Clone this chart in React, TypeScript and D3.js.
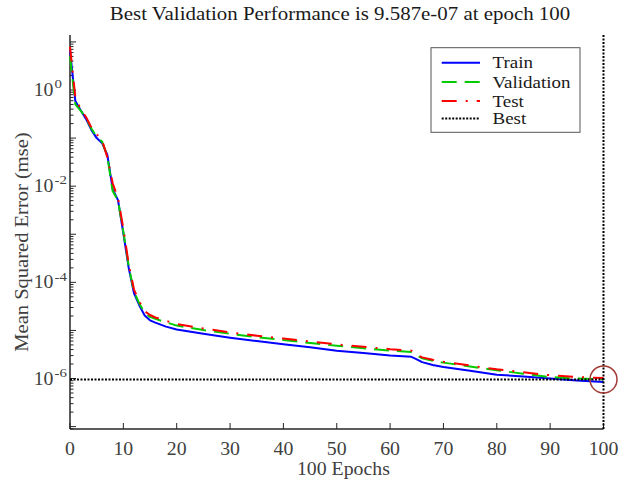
import React from "react";
import * as d3 from "d3";

const epochs = [0,1,2,3,4,5,6,7,8,9,10,11,12,13,14,15,16,18,20,25,30,35,40,45,50,55,60,64,65,66,68,70,75,80,85,90,95,100];
const trainPerf = [6.76,0.589,0.380,0.251,0.148,0.100,0.0794,0.0447,8.71e-3,5.13e-3,1.05e-3,2.0e-4,5.89e-5,3.31e-5,2.04e-5,1.62e-5,1.45e-5,1.20e-5,1.05e-5,8.51e-6,7.08e-6,6.03e-6,5.13e-6,4.47e-6,3.80e-6,3.39e-6,3.02e-6,2.82e-6,2.51e-6,2.19e-6,1.91e-6,1.74e-6,1.45e-6,1.20e-6,1.10e-6,1.0e-6,9.12e-7,8.51e-7];
const valPerf = [5.01,0.501,0.372,0.263,0.158,0.105,0.0851,0.0417,7.94e-3,5.01e-3,1.12e-3,2.19e-4,6.31e-5,3.63e-5,2.34e-5,1.91e-5,1.74e-5,1.48e-5,1.26e-5,1.02e-5,8.51e-6,7.24e-6,6.31e-6,5.50e-6,4.79e-6,4.27e-6,3.80e-6,3.55e-6,3.02e-6,2.63e-6,2.34e-6,2.14e-6,1.78e-6,1.48e-6,1.26e-6,1.07e-6,1.0e-6,9.587e-7];
const testPerf = [7.94,0.708,0.398,0.275,0.166,0.120,0.0912,0.0398,0.0115,5.62e-3,1.32e-3,2.40e-4,7.08e-5,3.98e-5,2.51e-5,2.09e-5,1.86e-5,1.58e-5,1.35e-5,1.10e-5,9.12e-6,7.76e-6,6.76e-6,5.89e-6,5.13e-6,4.57e-6,4.07e-6,3.80e-6,3.16e-6,2.75e-6,2.45e-6,2.24e-6,1.86e-6,1.55e-6,1.35e-6,1.17e-6,1.07e-6,1.02e-6];
const bestEpoch = 100;
const bestPerf = 9.587e-7;
const xTicks = [0,10,20,30,40,50,60,70,80,90,100];
const yLabelExps = [0,-2,-4,-6];
const legendNames = ["Train","Validation","Test","Best"];
const titleText = "Best Validation Performance is 9.587e-07 at epoch 100";
const xLabelText = "100 Epochs";
const yLabelText = "Mean Squared Error (mse)";

const FONT = "'Liberation Serif', 'Times New Roman', serif";
const SX = 1.1;

function T({ x, y, size, anchor = "start", fill = "#404040", rot = 0, sx = SX, children }: any) {
  return (
    <text
      transform={`translate(${x},${y}) rotate(${rot}) scale(${sx},1)`}
      fontFamily={FONT}
      fontSize={size}
      textAnchor={anchor}
      fill={fill}
    >
      {children}
    </text>
  );
}

export default function App() {
  const W = 619, H = 481;
  const x0 = 70, x1 = 603.5, yTop = 35, yBot = 429;
  const x = d3.scaleLinear().domain([0, 100]).range([x0, x1]);
  const y = d3.scaleLog().domain([Math.pow(10, -7.05), Math.pow(10, 1.144)]).range([yBot, yTop]);
  const [dmin, dmax] = y.domain();

  const line = (vals: number[]) =>
    d3.line<number>().x((_, i) => x(epochs[i])).y((v) => y(v))(vals) || "";

  const yTickMarks: { v: number; major: boolean }[] = [];
  for (let k = -8; k <= 1; k++) {
    for (let m = 1; m <= 9; m++) {
      const v = m * Math.pow(10, k);
      if (v >= dmin && v <= dmax) yTickMarks.push({ v, major: m === 1 });
    }
  }

  const axisColor = "#262626";
  const series = [
    { vals: trainPerf, color: "#0000ff", dash: "none" },
    { vals: valPerf, color: "#00cc00", dash: "15,8" },
    { vals: testPerf, color: "#ff0000", dash: "15,9,2,9" },
  ];
  const legendStyles = [
    { color: "#0000ff", dash: "none", w: 2 },
    { color: "#00cc00", dash: "15,8", w: 2 },
    { color: "#ff0000", dash: "15,9,2,9", w: 2 },
    { color: "#000000", dash: "2,1.5", w: 2 },
  ];
  const legY = [62.7, 82, 101, 118.6];
  const by = y(bestPerf);

  return (
    <svg width={W} height={H} style={{ position: "absolute", left: 0, top: 0, background: "#fff" }}>
      <rect x={0} y={0} width={W} height={H} fill="#fff" />
      {/* axes */}
      <line x1={x0} y1={yTop} x2={x0} y2={yBot} stroke={axisColor} strokeWidth={1.5} />
      <line x1={x0} y1={yBot} x2={x1} y2={yBot} stroke={axisColor} strokeWidth={1.5} />
      {yTickMarks.map((t, i) => (
        <line key={"yt" + i} x1={x0} x2={x0 + (t.major ? 6 : 3.5)} y1={y(t.v)} y2={y(t.v)} stroke={axisColor} strokeWidth={1} />
      ))}
      {xTicks.map((t) => (
        <line key={"xt" + t} x1={x(t)} x2={x(t)} y1={yBot} y2={yBot - 6} stroke={axisColor} strokeWidth={1} />
      ))}
      {/* tick labels */}
      {xTicks.map((t) => (
        <T key={"xl" + t} x={x(t)} y={455} size={18} anchor="middle">{String(t)}</T>
      ))}
      {yLabelExps.map((e) => (
        <g key={"yl" + e}>
          <T x={53.5} y={y(Math.pow(10, e)) + 6} size={18} anchor="end">10</T>
          <T x={54.5} y={y(Math.pow(10, e)) - 1.7} size={13.5} anchor="start">{e === 0 ? "0" : "-" + Math.abs(e)}</T>
        </g>
      ))}
      {/* series */}
      {series.map((s, i) => (
        <path key={"s" + i} d={line(s.vals)} fill="none" stroke={s.color} strokeWidth={2} strokeDasharray={s.dash} strokeLinejoin="round" />
      ))}
      {/* best */}
      <line x1={x0} x2={x1} y1={by} y2={by} stroke="#000" strokeWidth={2} strokeDasharray="2,1.5" />
      <line x1={x(bestEpoch)} x2={x(bestEpoch)} y1={yTop} y2={yBot} stroke="#000" strokeWidth={2} strokeDasharray="2,1.5" />
      <circle cx={x(bestEpoch)} cy={by} r={13.5} fill="none" stroke="#a33b35" strokeWidth={1.5} />
      {/* title and labels */}
      <T x={340} y={20} size={19} anchor="middle" fill="#1a1a1a">{titleText}</T>
      <T x={343.4} y={475} size={18} anchor="middle">{xLabelText}</T>
      <T x={28} y={242} size={18} anchor="middle" rot={-90} sx={1.14}>{yLabelText}</T>
      {/* legend */}
      <rect x={431} y={47.7} width={149} height={84.6} fill="#fff" stroke="#555" strokeWidth={1} />
      {legendNames.map((n, i) => (
        <g key={"lg" + i}>
          <line x1={441.7} x2={480} y1={legY[i]} y2={legY[i]} stroke={legendStyles[i].color} strokeWidth={legendStyles[i].w} strokeDasharray={legendStyles[i].dash} />
          <T x={492.5} y={legY[i] + 5.7} size={16.5} anchor="start" fill="#1a1a1a" sx={1.15}>{n}</T>
        </g>
      ))}
    </svg>
  );
}
